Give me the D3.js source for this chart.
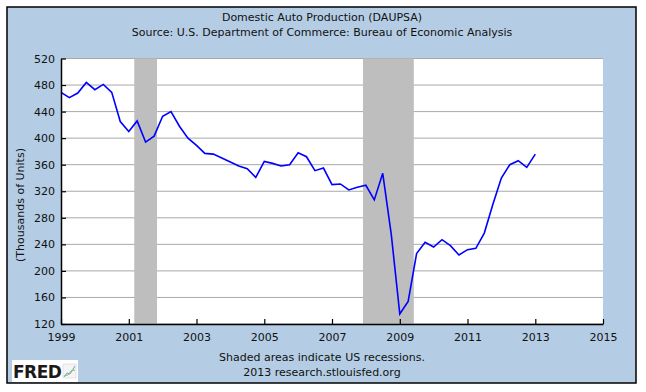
<!DOCTYPE html>
<html>
<head>
<meta charset="utf-8">
<script src="https://cdn.jsdelivr.net/npm/d3@7"></script>
<style>
  body { margin: 0; background: #fff; }
  text { font-family: "DejaVu Sans", Verdana, sans-serif; }
</style>
</head>
<body>
<div id="chart"></div>
<script>
// quarterly observations, DAUPSA
var quarters = [
  "1999-01","1999-04","1999-07","1999-10",
  "2000-01","2000-04","2000-07","2000-10",
  "2001-01","2001-04","2001-07","2001-10",
  "2002-01","2002-04","2002-07","2002-10",
  "2003-01","2003-04","2003-07","2003-10",
  "2004-01","2004-04","2004-07","2004-10",
  "2005-01","2005-04","2005-07","2005-10",
  "2006-01","2006-04","2006-07","2006-10",
  "2007-01","2007-04","2007-07","2007-10",
  "2008-01","2008-04","2008-07","2008-10",
  "2009-01","2009-04","2009-07","2009-10",
  "2010-01","2010-04","2010-07","2010-10",
  "2011-01","2011-04","2011-07","2011-10",
  "2012-01","2012-04","2012-07","2012-10",
  "2013-01"
];
var production = [
  469, 461, 468, 484,
  473, 481, 469, 425,
  410, 426, 394, 403,
  433, 440, 418, 400,
  389, 377, 376, 370,
  364, 358, 354, 341,
  365, 362, 358, 360,
  378, 372, 351, 355,
  330, 331, 322, 326,
  329, 307, 347, 255,
  135, 154, 226, 243,
  236, 247, 238, 224,
  232, 234, 257, 300,
  340, 360, 366, 356,
  376
];
var recessionStarts = ["2001-03", "2007-12"];
var recessionEnds = ["2001-11", "2009-06"];
var yTicks = [120, 160, 200, 240, 280, 320, 360, 400, 440, 480, 520];
var xTickYears = [1999, 2001, 2003, 2005, 2007, 2009, 2011, 2013, 2015];

var title = "Domestic Auto Production (DAUPSA)";
var subtitle = "Source: U.S. Department of Commerce: Bureau of Economic Analysis";
var yLabel = "(Thousands of Units)";
var note1 = "Shaded areas indicate US recessions.";
var note2 = "2013 research.stlouisfed.org";

var width = 646, height = 392;
var parse = d3.timeParse("%Y-%m");
var plotLeft = 61, plotRight = 603, plotTop = 58.5, plotBottom = 324;

var svg = d3.select('#chart')
  .append('svg')
  .attr('width', width)
  .attr('height', height);

svg.append('rect')
  .attr('x', 7).attr('y', 7)
  .attr('width', 629).attr('height', 376)
  .attr('fill', '#b4cde4')
  .attr('stroke', '#000')
  .attr('stroke-width', 1.5);

var x = d3.scaleTime()
  .domain([new Date(1999, 0, 1), new Date(2015, 0, 1)])
  .range([plotLeft, plotRight]);
var y = d3.scaleLinear()
  .domain([120, 520])
  .range([plotBottom, plotTop]);

svg.append('rect')
  .attr('x', plotLeft).attr('y', plotTop)
  .attr('width', plotRight - plotLeft).attr('height', plotBottom - plotTop)
  .attr('fill', '#fff');

// grid
svg.append('g')
  .selectAll('line')
  .data(yTicks)
  .enter()
  .append('line')
  .attr('x1', plotLeft).attr('x2', plotRight)
  .attr('y1', d => y(d)).attr('y2', d => y(d))
  .attr('stroke', '#a9a9a9')
  .attr('stroke-width', 1);

// recessions
svg.append('g')
  .selectAll('rect')
  .data(recessionStarts)
  .enter()
  .append('rect')
  .attr('x', d => x(parse(d)))
  .attr('width', (d, i) => x(parse(recessionEnds[i])) - x(parse(d)))
  .attr('y', plotTop)
  .attr('height', plotBottom - plotTop)
  .attr('fill', '#bebebe');

var line = d3.line()
  .x((d, i) => x(parse(quarters[i])))
  .y(d => y(d));

svg.append('path')
  .datum(production)
  .attr('d', line)
  .attr('fill', 'none')
  .attr('stroke', '#0000ff')
  .attr('stroke-width', 1.6);

var yAxis = d3.axisLeft(y)
  .tickValues(yTicks)
  .tickSizeInner(-5)
  .tickSizeOuter(0)
  .tickPadding(6);
var xAxis = d3.axisBottom(x)
  .tickValues(xTickYears.map(d => new Date(d, 0, 1)))
  .tickFormat(d3.timeFormat('%Y'))
  .tickSizeInner(-5)
  .tickSizeOuter(0)
  .tickPadding(9);

var gy = svg.append('g')
  .attr('transform', 'translate(' + plotLeft + ',0)')
  .call(yAxis);
var gx = svg.append('g')
  .attr('transform', 'translate(0,' + plotBottom + ')')
  .call(xAxis);

[gx, gy].forEach(g => {
  g.select('.domain').attr('stroke', '#000').attr('stroke-width', 1.5);
  g.selectAll('.tick line').attr('stroke', '#000').attr('stroke-width', 1.2);
  g.selectAll('.tick text')
    .attr('fill', '#111')
    .style('font-size', '11px')
    .style('font-family', '"DejaVu Sans", sans-serif');
});

svg.append('text')
  .attr('x', 322).attr('y', 21)
  .attr('text-anchor', 'middle')
  .style('font-size', '11px')
  .attr('fill', '#111')
  .text(title);
svg.append('text')
  .attr('x', 322).attr('y', 36)
  .attr('text-anchor', 'middle')
  .style('font-size', '11px')
  .attr('fill', '#111')
  .text(subtitle);

svg.append('text')
  .attr('transform', 'translate(24,205) rotate(-90)')
  .attr('text-anchor', 'middle')
  .style('font-size', '11px')
  .attr('fill', '#111')
  .text(yLabel);

svg.append('text')
  .attr('x', 322).attr('y', 361)
  .attr('text-anchor', 'middle')
  .style('font-size', '11px')
  .attr('fill', '#111')
  .text(note1);
svg.append('text')
  .attr('x', 322).attr('y', 376)
  .attr('text-anchor', 'middle')
  .style('font-size', '11px')
  .attr('fill', '#111')
  .text(note2);

// FRED logo
var logo = svg.append('g');
logo.append('rect')
  .attr('x', 12).attr('y', 360)
  .attr('width', 66).attr('height', 22)
  .attr('fill', '#fff');
logo.append('text')
  .attr('x', 13).attr('y', 378)
  .style('font-size', '17px')
  .style('font-weight', 'bold')
  .style('letter-spacing', '-0.5px')
  .attr('fill', '#1a1a1a')
  .text('FRED');
logo.append('rect')
  .attr('x', 63).attr('y', 364)
  .attr('width', 13).attr('height', 14)
  .attr('fill', '#f4f4f4')
  .attr('stroke', '#d8d8d8')
  .attr('stroke-width', 0.6);
logo.append('path')
  .attr('d', 'M64,377 L67,373 L70,374 L75,366')
  .attr('fill', 'none')
  .attr('stroke', '#6a9fd4')
  .attr('stroke-width', 1);
logo.append('path')
  .attr('d', 'M64,376 L68,375 L71,371 L75,370')
  .attr('fill', 'none')
  .attr('stroke', '#8cc06a')
  .attr('stroke-width', 1);
</script>
</body>
</html>
